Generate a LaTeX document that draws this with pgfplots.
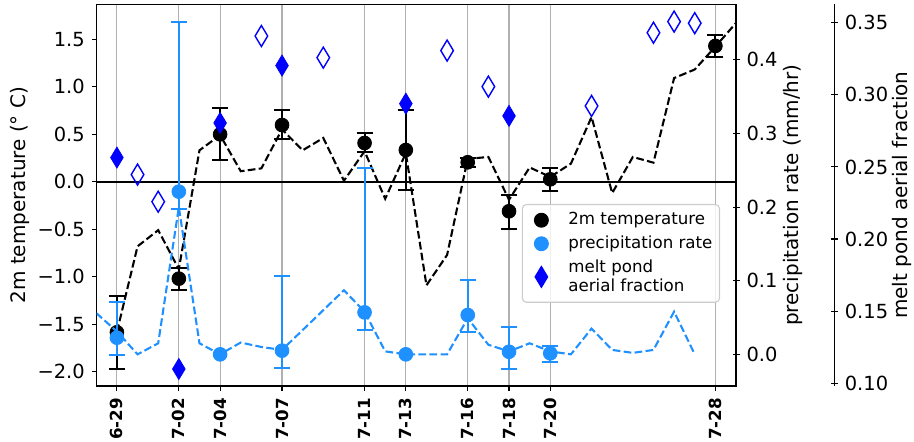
\documentclass[border=0pt]{standalone}
\usepackage{fontspec}
\setmainfont{DejaVu Sans}
\usepackage{pgfplots}
\usepackage{pgfplotstable}
\pgfplotsset{compat=1.18}
\definecolor{precip}{HTML}{1E90FF}
\definecolor{pond}{HTML}{0000FF}
\definecolor{gridgray}{HTML}{B0B0B0}
\definecolor{legedge}{HTML}{CCCCCC}

% days counted from 6-29 (= 0)
\pgfplotstableread{
x y
0 -1.58
1 -0.68
2 -0.51
3 -0.92
4 0.33
5 0.49
6 0.11
7 0.14
8 0.55
9 0.33
10 0.46
11 0.01
12 0.32
13 -0.18
14 0.30
15 -1.09
16 -0.77
17 0.24
18 0.26
19 -0.19
20 0.15
21 0.05
22 0.19
23 0.68
24 -0.12
25 0.26
26 0.20
27 1.09
28 1.18
29 1.42
30 1.67
}\templine

\pgfplotstableread{
x y ep em
0 -1.584 0.378 0.386
3 -1.020 0.115 0.119
5 0.498 0.277 0.270
8 0.596 0.158 0.150
12 0.407 0.105 0.095
14 0.333 0.421 0.420
17 0.204 0.045 0.046
19 -0.311 0.171 0.187
21 0.025 0.116 0.120
29 1.428 0.112 0.113
}\tempobs

\pgfplotstableread{
x y
-1 0.056
0 0.031
1 0.000
2 0.015
3 0.200
4 0.015
5 0.000
6 0.016
7 0.010
8 0.006
9 0.033
10 0.060
11 0.087
12 0.058
13 0.004
14 0.000
15 0.000
16 0.000
17 0.049
18 0.013
19 0.004
20 0.015
21 0.004
22 0.000
23 0.035
24 0.006
25 0.002
26 0.006
27 0.058
28 0.000
}\precline

\pgfplotstableread{
x y ep em
0 0.0226 0.048 0.024
3 0.221 0.230 0.024
8 0.005 0.101 0.024
12 0.057 0.1965 0.024
17 0.0534 0.0476 0.0234
19 0.0035 0.034 0.0235
21 0.0014 0.0103 0.0114
}\precobs

\pgfplotstableread{
x y
5 0.000
14 0.000
}\precnoerr

\pgfplotstableread{
x y
0 0.2565
3 0.1099
5 0.2805
8 0.3203
14 0.2939
19 0.2854
}\pondobs

\pgfplotstableread{
x y
1 0.2447
2 0.2259
7 0.3408
10 0.3258
16 0.3307
18 0.3057
23 0.2923
26 0.3431
27 0.3508
28 0.3497
}\pondest

\begin{document}
\begin{tikzpicture}
\path[use as bounding box] (0,0) rectangle (457pt,221pt);
\pgfplotsset{
  base/.style={
    scale only axis, width=319.65pt, height=190.85pt,
    at={(48.35pt,28pt)}, anchor=south west,
    xmin=-0.98, xmax=30,
    axis line style={line width=0.55pt},
    tick style={black, line width=0.55pt},
    major tick length=2.45pt,
    tick label style={font=\fontsize{9.72}{11}\selectfont},
    label style={font=\fontsize{9.72}{11}\selectfont},
  },
  dashed line/.style={line width=1.04pt, dash pattern=on 3.85pt off 1.67pt},
  bars/.style={
    error bars/.cd, y dir=both, y explicit,
    error bar style={line width=1.04pt, solid},
    error mark options={rotate=90, mark size=4pt, line width=1.04pt},
  },
}
% temperature axis
\begin{axis}[base,
  ymin=-2.149, ymax=1.866,
  xtick pos=bottom, ytick pos=left, tick align=outside,
  major tick length=2.45pt,
  xtick={0,3,5,8,12,14,17,19,21,29},
  xticklabels={6-29,7-02,7-04,7-07,7-11,7-13,7-16,7-18,7-20,7-28},
  xticklabel style={rotate=90, anchor=east, font=\fontsize{8.33}{10}\selectfont\bfseries},
  ytick={-2,-1.5,-1,-0.5,0,0.5,1,1.5},
  yticklabels={−2.0,−1.5,−1.0,−0.5,0.0,0.5,1.0,1.5},
  xmajorgrids, grid style={gridgray, line width=0.55pt},
  ylabel={2m temperature (° C)},
  every axis y label/.style={at={(axis description cs:-0.12,0.5)}, rotate=90, anchor=center},
]
\addplot[black, line width=1.04pt, forget plot] coordinates {(-0.98,0) (30,0)};
\addplot[black, dashed line, no marks] table[x=x, y=y] {\templine};
\addplot[black, only marks, mark=*, mark size=3.45pt, bars]
  table[x=x, y=y, y error plus=ep, y error minus=em] {\tempobs};
\end{axis}
% precipitation axis
\begin{axis}[base,
  hide x axis, axis y line*=right,
  ymin=-0.043, ymax=0.4755,
  tick align=center, major tick length=3.5pt,
  ytick={0,0.1,0.2,0.3,0.4},
  yticklabels={0.0,0.1,0.2,0.3,0.4},
  ylabel={precipitation rate (mm/hr)},
  every axis y label/.style={at={(axis description cs:1.0892,0.5)}, rotate=90, anchor=center},
]
\addplot[precip, dashed line, no marks] table[x=x, y=y] {\precline};
\addplot[precip, only marks, mark=*, mark size=3.45pt, bars]
  table[x=x, y=y, y error plus=ep, y error minus=em] {\precobs};
\addplot[precip, only marks, mark=*, mark size=3.45pt] table[x=x, y=y] {\precnoerr};
\end{axis}
% melt pond data and legend
\begin{axis}[base,
  hide x axis, hide y axis,
  ymin=0.0981, ymax=0.3628,
  legend style={at={(rel axis cs:0.975,0.4768)}, anchor=north east,
    draw=legedge, rounded corners=2pt, fill=white, fill opacity=0.8,
    draw opacity=1, text opacity=1,
    font=\fontsize{8.33}{9.5}\selectfont, line width=0.55pt,
    inner xsep=1pt, inner ysep=2.5pt, row sep=1pt,
    nodes={inner xsep=2.5pt, inner ysep=1.5pt}},
  legend cell align=left,
  legend image code/.code={%
    \path[draw=none, fill=none] (-8.5pt,0pt) (11pt,0pt);
    \draw[#1, opacity=1] plot coordinates {(0pt,0pt)};},
]
\addplot[pond, only marks, mark=diamond, mark size=5.25pt,
  mark options={xscale=0.8, line width=0.7pt}, forget plot] table[x=x, y=y] {\pondest};
\addplot[pond, only marks, mark=diamond*, mark size=5.25pt,
  mark options={xscale=0.8}, forget plot] table[x=x, y=y] {\pondobs};
\addlegendimage{black, only marks, mark=*, mark size=3.45pt}
\addlegendentry{2m temperature}
\addlegendimage{precip, only marks, mark=*, mark size=3.45pt}
\addlegendentry{precipitation rate}
\addlegendimage{pond, only marks, mark=diamond*, mark size=5.25pt, mark options={xscale=0.8}}
\addlegendentry[align=left]{melt pond\\aerial fraction}
\end{axis}
% outer spine for melt pond fraction
\begin{axis}[
  scale only axis, width=10pt, height=190.85pt,
  at={(417.15pt,28pt)}, anchor=south east,
  hide x axis, axis y line*=right,
  xmin=0, xmax=1, ymin=0.0981, ymax=0.3628,
  axis line style={line width=0.55pt},
  tick style={black, line width=0.55pt},
  tick align=center, major tick length=3.5pt,
  tick label style={font=\fontsize{9.72}{11}\selectfont},
  label style={font=\fontsize{9.72}{11}\selectfont},
  ytick={0.10,0.15,0.20,0.25,0.30,0.35},
  yticklabels={0.10,0.15,0.20,0.25,0.30,0.35},
  ylabel={melt pond aerial fraction},
  every axis y label/.style={at={(axis description cs:4.37,0.5)}, rotate=90, anchor=center},
]
\end{axis}
\end{tikzpicture}
\end{document}
